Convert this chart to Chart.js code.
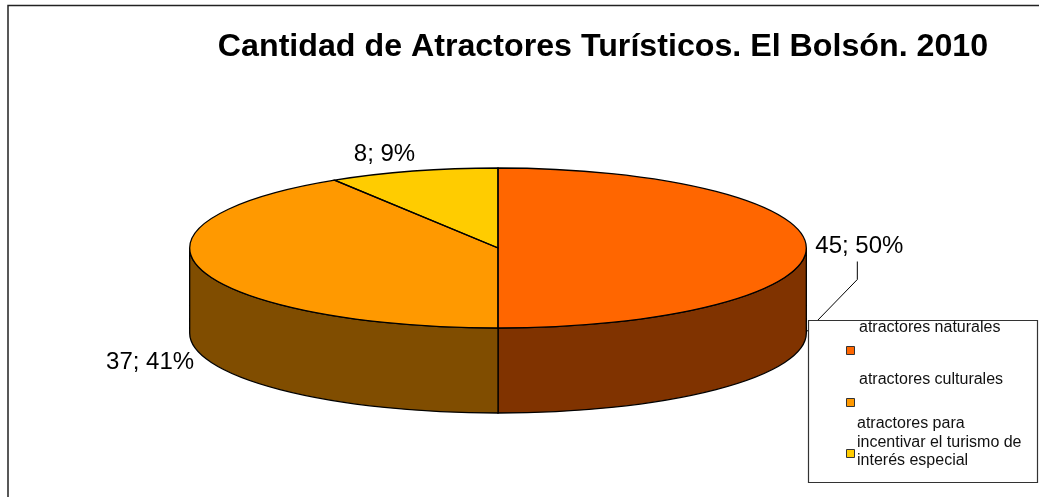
<!DOCTYPE html>
<html>
<head>
<meta charset="utf-8">
<title>Cantidad de Atractores Turísticos</title>
<script src="https://cdn.jsdelivr.net/npm/chart.js@4"></script>
<style>
html, body { margin: 0; padding: 0; background: #fff; overflow: hidden; }
canvas { display: block; }
</style>
</head>
<body>
<canvas id="pie" width="1039" height="497"></canvas>
<script>
// DATA
var chartTitle = 'Cantidad de Atractores Turísticos. El Bolsón. 2010';
var categories = ['atractores naturales', 'atractores culturales', 'atractores para incentivar el turismo de interés especial'];
var values = [45, 37, 8];
var percents = [50, 41, 9];
var sliceColors = ['#ff6600', '#ff9900', '#ffcc00'];
var wallColors = ['#803300', '#804d00', '#806600'];

// LOOK
var SCALE_X = 1.927;   // Chart.js arcs are round, so the whole pie gets squashed
var SCALE_Y = 0.5;
var DEPTH = 85;
var FONT = '"Liberation Sans", Arial, sans-serif';
var LABEL_OFFSETS = [[53, -2], [-51.5, 92], [-28.5, -16.6]];
var BOX = { left: 808, top: 320, right: 1037, bottom: 482 };
var SWATCH_Y = [346, 398, 449];
var TEXT_Y = [[327.5], [379.5], [423.5, 442.5, 460.5]];
var TEXT_X = [859, 859, 857];

function pieGeom(chart) {
  var arcs = chart.getDatasetMeta(0).data;
  return {
    arcs: arcs,
    cx: arcs[0].x,
    cy: arcs[0].y,
    rx: arcs[0].outerRadius * SCALE_X,
    ry: arcs[0].outerRadius * SCALE_Y
  };
}

function wrapLines(ctx, text, maxW) {
  var lines = [], line = '';
  text.split(' ').forEach(function(w) {
    var t = line ? line + ' ' + w : w;
    if (ctx.measureText(t).width > maxW && line) { lines.push(line); line = w; }
    else line = t;
  });
  lines.push(line);
  return lines;
}

var pie3d = {
  id: 'pie3d',
  beforeDraw: function(chart) {
    var ctx = chart.ctx;
    ctx.save();
    ctx.fillStyle = '#fff';
    ctx.fillRect(0, 0, chart.width, chart.height);
    // frame only shows on the top and left
    ctx.strokeStyle = '#222';
    ctx.lineWidth = 1.5;
    ctx.beginPath();
    ctx.moveTo(chart.width, 5.5);
    ctx.lineTo(8, 5.5);
    ctx.lineTo(8, chart.height);
    ctx.stroke();
    ctx.restore();
  },
  beforeDatasetsDraw: function(chart) {
    var ctx = chart.ctx;
    var g = pieGeom(chart);
    // side wall, only the front half of the pie is visible
    ctx.save();
    ctx.strokeStyle = '#000';
    ctx.lineWidth = 1.3;
    g.arcs.forEach(function(arc, i) {
      var a0 = Math.max(arc.startAngle, 0);
      var a1 = Math.min(arc.endAngle, Math.PI);
      if (a1 <= a0) return;
      ctx.beginPath();
      ctx.ellipse(g.cx, g.cy, g.rx, g.ry, 0, a0, a1);
      ctx.ellipse(g.cx, g.cy + DEPTH, g.rx, g.ry, 0, a1, a0, true);
      ctx.closePath();
      ctx.fillStyle = wallColors[i];
      ctx.fill();
      ctx.stroke();
    });
    ctx.restore();
    // restored again in afterDatasetsDraw
    ctx.save();
    ctx.translate(g.cx, g.cy);
    ctx.scale(SCALE_X, SCALE_Y);
    ctx.translate(-g.cx, -g.cy);
  },
  afterDatasetsDraw: function(chart) {
    var ctx = chart.ctx;
    ctx.restore();
    var g = pieGeom(chart);

    // slice outlines, here so the line width is not squashed too
    ctx.save();
    ctx.strokeStyle = '#000';
    ctx.lineWidth = 1.3;
    g.arcs.forEach(function(arc) {
      ctx.beginPath();
      ctx.moveTo(g.cx, g.cy);
      ctx.ellipse(g.cx, g.cy, g.rx, g.ry, 0, arc.startAngle, arc.endAngle);
      ctx.closePath();
      ctx.stroke();
    });

    // data labels
    ctx.fillStyle = '#000';
    ctx.font = '24px ' + FONT;
    ctx.textAlign = 'center';
    ctx.textBaseline = 'middle';
    g.arcs.forEach(function(arc, i) {
      var mid = (arc.startAngle + arc.endAngle) / 2;
      var x = g.cx + g.rx * Math.cos(mid) + LABEL_OFFSETS[i][0];
      var y = g.cy + g.ry * Math.sin(mid) + LABEL_OFFSETS[i][1];
      ctx.fillText(values[i] + '; ' + percents[i] + '%', x, y);
    });

    // leader line of the first label, runs under the legend box
    var ax = g.cx + g.rx;
    ctx.lineWidth = 1;
    ctx.beginPath();
    ctx.moveTo(ax + 51, g.cy + 13.5);
    ctx.lineTo(ax + 51, g.cy + 31.5);
    ctx.lineTo(ax, g.cy + 84);
    ctx.stroke();

    // title
    ctx.font = 'bold 32.2px ' + FONT;
    ctx.fillText(chartTitle, 603, 47.5);

    // legend
    ctx.fillStyle = '#fff';
    ctx.strokeStyle = '#333';
    ctx.lineWidth = 1.2;
    ctx.beginPath();
    ctx.rect(BOX.left + 0.5, BOX.top + 0.5, BOX.right - BOX.left, BOX.bottom - BOX.top);
    ctx.fill();
    ctx.stroke();

    ctx.font = '16px ' + FONT;
    ctx.textAlign = 'left';
    categories.forEach(function(name, i) {
      ctx.fillStyle = sliceColors[i];
      ctx.strokeStyle = '#333';
      ctx.lineWidth = 1;
      ctx.beginPath();
      ctx.rect(846.5, SWATCH_Y[i] + 0.5, 8, 8);
      ctx.fill();
      ctx.stroke();
      ctx.fillStyle = '#111';
      wrapLines(ctx, name, 170).forEach(function(line, k) {
        ctx.fillText(line, TEXT_X[i], TEXT_Y[i][k]);
      });
    });
    ctx.restore();
  }
};

var chart = new Chart(document.getElementById('pie').getContext('2d'), {
  type: 'pie',
  data: {
    labels: categories,
    datasets: [{
      data: values,
      backgroundColor: sliceColors,
      borderWidth: 0,
      clip: false
    }]
  },
  options: {
    responsive: false,
    animation: false,
    layout: { padding: { left: 338, right: 381, top: 88, bottom: 89 } },
    plugins: {
      legend: { display: false },
      title: { display: false },
      tooltip: { enabled: false }
    }
  },
  plugins: [pie3d]
});
</script>
</body>
</html>
